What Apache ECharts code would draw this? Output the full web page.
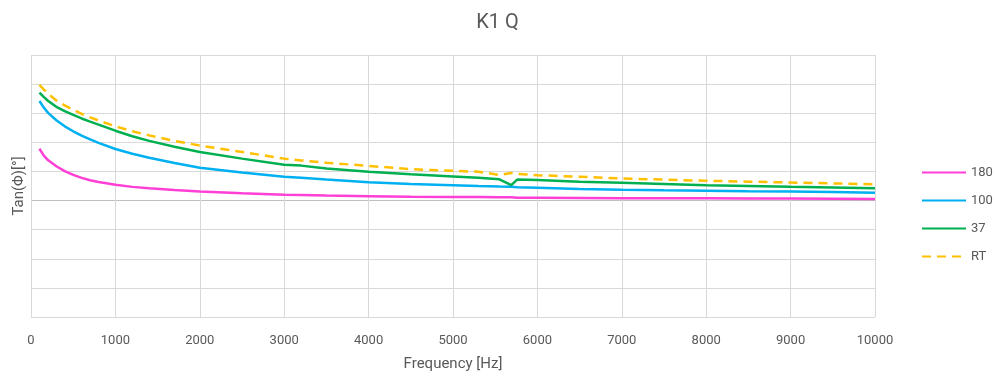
<!DOCTYPE html>
<html>
<head>
<meta charset="utf-8">
<script src="https://cdn.jsdelivr.net/npm/echarts@6/dist/echarts.min.js"></script>
<style>html,body{margin:0;padding:0;background:#fff}#c{width:995px;height:377px}</style>
</head>
<body>
<div id="c"></div>
<script>
const freq = [100, 150, 200, 300, 400, 500, 600, 700, 800, 1000, 1200, 1400, 1700, 2000, 2500, 3000, 3200, 3500, 4000, 4500, 5000, 5300, 5550, 5690, 5760, 6000, 6500, 7000, 7500, 8000, 8500, 9000, 9500, 10000];
const sRT  = [3.97, 3.82, 3.68, 3.44, 3.27, 3.12, 2.98, 2.86, 2.75, 2.55, 2.38, 2.24, 2.05, 1.89, 1.67, 1.44, 1.38, 1.30, 1.19, 1.08, 1.02, 0.99, 0.88, 0.95, 0.92, 0.87, 0.82, 0.76, 0.72, 0.68, 0.65, 0.62, 0.59, 0.56];
const s37  = [3.71, 3.56, 3.43, 3.22, 3.07, 2.94, 2.82, 2.71, 2.61, 2.40, 2.21, 2.05, 1.85, 1.67, 1.44, 1.23, 1.20, 1.10, 0.99, 0.90, 0.83, 0.78, 0.73, 0.53, 0.72, 0.71, 0.65, 0.61, 0.57, 0.53, 0.50, 0.47, 0.45, 0.42];
const s100 = [3.42, 3.20, 3.02, 2.76, 2.55, 2.38, 2.23, 2.10, 1.98, 1.77, 1.61, 1.47, 1.29, 1.13, 0.96, 0.82, 0.78, 0.72, 0.63, 0.57, 0.53, 0.50, 0.48, 0.47, 0.46, 0.44, 0.40, 0.37, 0.35, 0.34, 0.32, 0.31, 0.29, 0.27];
const s180 = [1.78, 1.55, 1.39, 1.18, 1.01, 0.88, 0.78, 0.70, 0.64, 0.54, 0.47, 0.42, 0.36, 0.31, 0.25, 0.20, 0.19, 0.17, 0.15, 0.13, 0.12, 0.12, 0.11, 0.11, 0.10, 0.10, 0.09, 0.08, 0.08, 0.08, 0.07, 0.07, 0.06, 0.05];
const seriesNames = ['180', '100', '37', 'RT'];
const title = 'K1 Q';
const xName = 'Frequency [Hz]';
const yName = 'Tan(Φ)[°]';

const pairs = arr => freq.map((f, i) => [f, arr[i]]);
const font = 'Roboto, "Noto Sans", sans-serif';
const txt = '#595959';
const gridColors = ['#d9d9d9','#d9d9d9','#d9d9d9','#d9d9d9','#bfbfbf','#d9d9d9','#d9d9d9','#d9d9d9','#d9d9d9','#d9d9d9'];

const chart = echarts.init(document.getElementById('c'), null, {renderer: 'canvas'});
const mk = (name, data, color, dashed) => ({
  name, type: 'line', data: pairs(data), symbol: 'none', smooth: false,
  lineStyle: {color, width: 2.5, type: dashed ? [9, 6] : 'solid'},
  itemStyle: {color}, emphasis: {disabled: true}
});
chart.setOption({
  animation: false,
  textStyle: {fontFamily: font},
  title: {text: title, left: 'center', top: 8, textStyle: {fontSize: 20, fontWeight: 'normal', color: txt, fontFamily: font}},
  grid: {left: 31, right: 120, top: 55, bottom: 57, containLabel: false},
  legend: {
    orient: 'vertical', left: 921, top: 166, padding: 0, itemWidth: 44, itemHeight: 14, itemGap: 15,
    itemStyle: {opacity: 0},
    data: seriesNames, textStyle: {color: txt, fontSize: 13, fontFamily: font}
  },
  xAxis: {
    type: 'value', min: 0, max: 10000, interval: 1000,
    name: xName, nameLocation: 'middle', nameGap: 40,
    nameTextStyle: {color: txt, fontSize: 15, fontFamily: font},
    axisLine: {show: false, onZero: false}, axisTick: {show: false},
    axisLabel: {color: txt, fontSize: 13, margin: 17, fontFamily: font, formatter: v => String(v)},
    splitLine: {show: true, lineStyle: {color: '#d9d9d9', width: 1}}
  },
  yAxis: {
    type: 'value', min: -4, max: 5, interval: 1,
    name: yName, nameLocation: 'middle', nameGap: 4,
    nameTextStyle: {color: txt, fontSize: 15, fontFamily: font},
    axisLine: {show: false}, axisTick: {show: false}, axisLabel: {show: false},
    splitLine: {show: true, lineStyle: {color: gridColors, width: 1}}
  },
  series: [
    mk('180', s180, '#ff3fd6', false),
    mk('100', s100, '#00b0f0', false),
    mk('37', s37, '#00b050', false),
    mk('RT', sRT, '#ffc000', true)
  ]
});
</script>
</body>
</html>
